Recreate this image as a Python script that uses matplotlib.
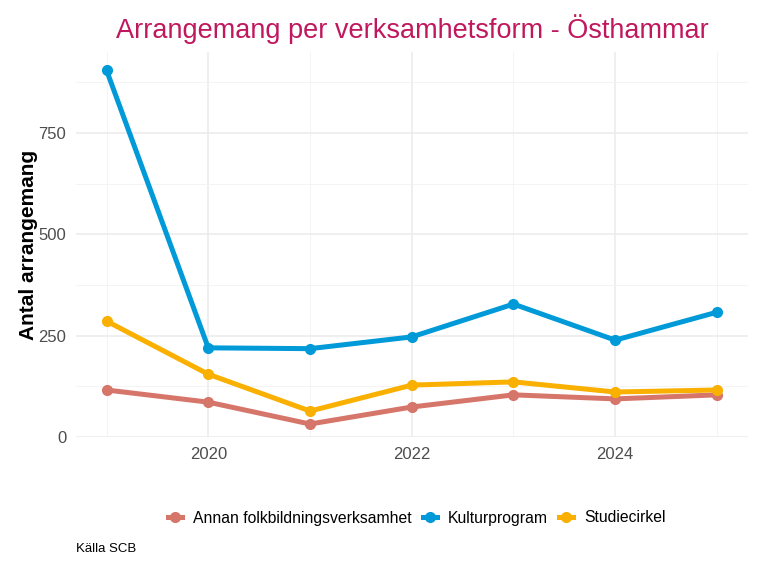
import matplotlib
matplotlib.use("Agg")
import matplotlib.pyplot as plt
from matplotlib.ticker import FixedLocator
from matplotlib.lines import Line2D

plt.rcParams['font.family'] = ['Liberation Sans', 'DejaVu Sans']

years = [2019, 2020, 2021, 2022, 2023, 2024, 2025]
series_names = ["Annan folkbildningsverksamhet", "Kulturprogram", "Studiecirkel"]
annan = [116, 86, 32, 74, 104, 94, 104]
kultur = [905, 220, 218, 247, 328, 239, 308]
studie = [286, 155, 64, 128, 136, 111, 116]
colors = ["#D6756A", "#009AD8", "#F9B000"]
title = "Arrangemang per verksamhetsform - Östhammar"
ylabel = "Antal arrangemang"
caption = "Källa SCB"

fig = plt.figure(figsize=(7.68, 5.76), dpi=100)
top_px, bot_px, left_px, right_px = 52, 437, 76, 747.5
ax = fig.add_axes([left_px/768, 1-bot_px/576, (right_px-left_px)/768, (bot_px-top_px)/576])

for vals, name, c in zip([annan, kultur, studie], series_names, colors):
    ax.plot(years, vals, color=c, lw=3.6, marker='o', ms=7, label=name,
            solid_capstyle='round', solid_joinstyle='round', clip_on=False)

ax.set_xlim(2018.7, 2025.3)
ax.set_ylim(0, 950)
ax.xaxis.set_major_locator(FixedLocator([2020, 2022, 2024]))
ax.xaxis.set_minor_locator(FixedLocator([2019, 2021, 2023, 2025]))
ax.yaxis.set_major_locator(FixedLocator([0, 250, 500, 750]))
ax.yaxis.set_minor_locator(FixedLocator([125, 375, 625, 875]))
ax.grid(which='major', color='#EBEBEB', lw=1.1)
ax.grid(which='minor', color='#F2F2F2', lw=0.6)
ax.set_axisbelow(True)
for s in ax.spines.values():
    s.set_visible(False)
ax.tick_params(which='both', length=0, labelsize=12, labelcolor='#4D4D4D')
ax.tick_params(axis='y', pad=7)
ax.tick_params(axis='x', pad=7)
ax.set_ylabel(ylabel, fontsize=15, fontweight='bold', labelpad=0.5)

fig.text(412/768, 1-29.5/576, title, ha='center', va='center', fontsize=19.5, color='#C0185E')

handles = [Line2D([0], [0], color=c, lw=3.6, marker='o', ms=7) for c in colors]
leg = fig.legend(handles, series_names, loc='center', bbox_to_anchor=(417/768, 1-518/576), ncol=3,
                 frameon=False, fontsize=11.3, handlelength=0.9, handletextpad=0.7, columnspacing=0.7)
fig.text(76/768, 1-549/576, caption, ha='left', va='center', fontsize=9.5)

fig.savefig("out.png", dpi=100)
